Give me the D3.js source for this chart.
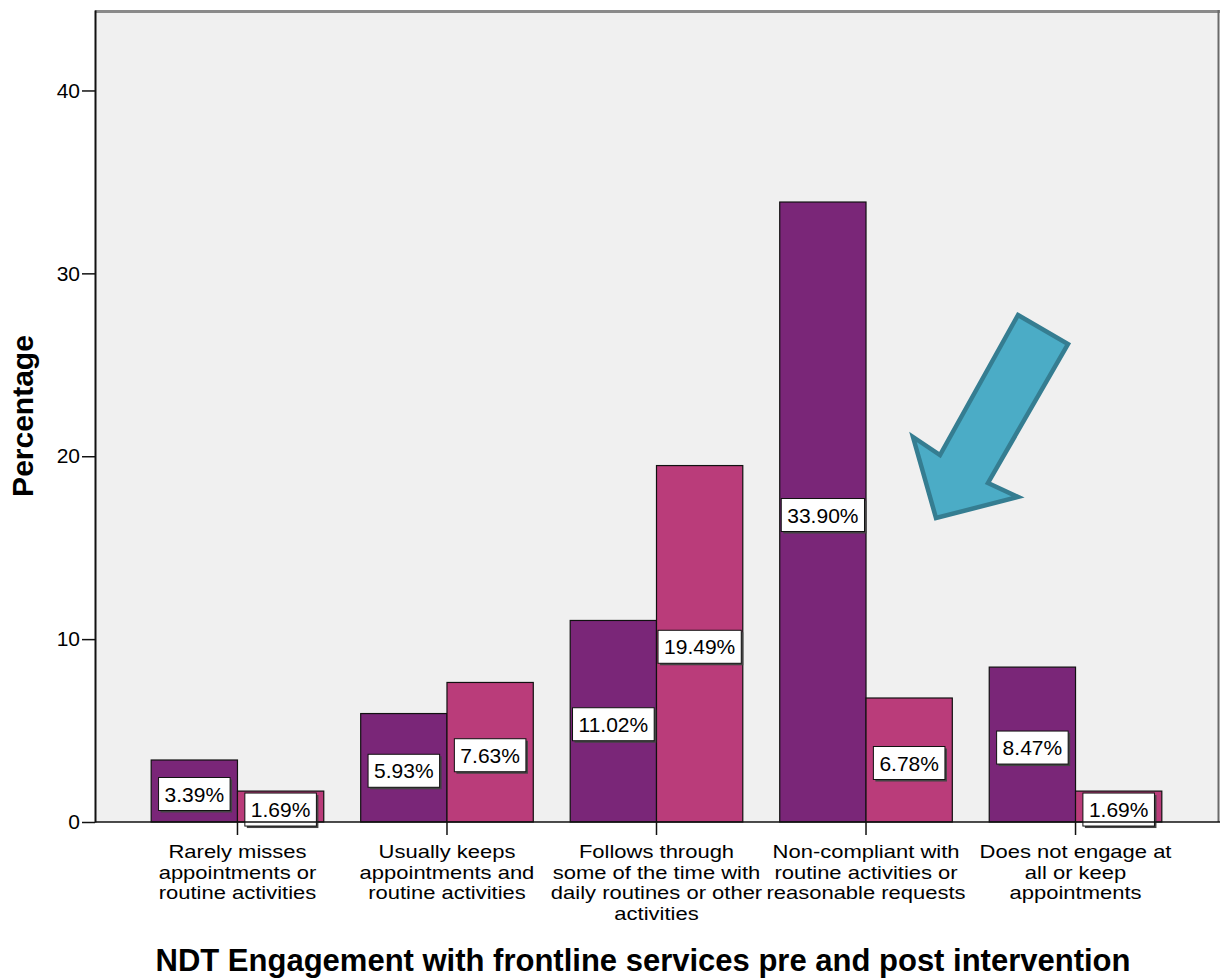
<!DOCTYPE html>
<html>
<head>
<meta charset="utf-8">
<script src="https://cdn.jsdelivr.net/npm/d3@7"></script>
<style>
  body { margin: 0; background: #fff; }
  svg text { font-family: "Liberation Sans", Arial, sans-serif; fill: #000; }
</style>
</head>
<body>
<svg id="chart" width="1220" height="979"></svg>
<script>
// categories (x axis), each label split into lines as drawn
const categories = [
  'Rarely misses appointments or routine activities',
  'Usually keeps appointments and routine activities',
  'Follows through some of the time with daily routines or other activities',
  'Non-compliant with routine activities or reasonable requests',
  'Does not engage at all or keep appointments'
]
const categoryLines = [
  ['Rarely misses', 'appointments or', 'routine activities'],
  ['Usually keeps', 'appointments and', 'routine activities'],
  ['Follows through', 'some of the time with', 'daily routines or other', 'activities'],
  ['Non-compliant with', 'routine activities or', 'reasonable requests'],
  ['Does not engage at', 'all or keep', 'appointments']
]
const seriesNames = ['pre', 'post']
const preValues = [3.39, 5.93, 11.02, 33.90, 8.47]
const postValues = [1.69, 7.63, 19.49, 6.78, 1.69]
const yTicks = [0, 10, 20, 30, 40]

const colors = { pre: '#7a2678', post: '#ba3c7a' }

const data = categories.map((c, i) => ({
  category: c,
  values: [
    { key: 'pre', value: preValues[i] },
    { key: 'post', value: postValues[i] }
  ]
}))

const svg = d3.select('#chart')
const plotLeft = 95, plotRight = 1218, plotTop = 10, plotBottom = 822

const x = d3.scaleBand()
  .domain(categories)
  .range([plotLeft, plotRight])
  .paddingInner(0)
  .paddingOuter(0.18)

const xSub = d3.scaleBand()
  .domain(seriesNames)
  .range([0, x.bandwidth()])
  .paddingInner(0)
  .paddingOuter(0.214)

const y = d3.scaleLinear()
  .domain([0, 44.4])
  .range([plotBottom, plotTop])

// plot background + frame
svg.append('rect')
  .attr('x', plotLeft).attr('y', plotTop)
  .attr('width', plotRight - plotLeft).attr('height', plotBottom - plotTop)
  .attr('fill', '#f0f0f0')
svg.append('line')
  .attr('x1', plotLeft).attr('x2', plotRight + 2)
  .attr('y1', plotTop + 1.5).attr('y2', plotTop + 1.5)
  .attr('stroke', '#8a8a8a').attr('stroke-width', 3)
svg.append('line')
  .attr('x1', plotRight + 0.5).attr('x2', plotRight + 0.5)
  .attr('y1', plotTop).attr('y2', plotBottom)
  .attr('stroke', '#6a6a6a').attr('stroke-width', 2)

// bars
const groups = svg.selectAll('.group')
  .data(data)
  .join('g')
  .attr('class', 'group')
  .attr('transform', d => `translate(${x(d.category)},0)`)

groups.selectAll('.bar')
  .data(d => d.values)
  .join('rect')
  .attr('class', 'bar')
  .attr('x', d => xSub(d.key))
  .attr('y', d => y(d.value))
  .attr('width', xSub.bandwidth())
  .attr('height', d => y(0) - y(d.value))
  .attr('fill', d => colors[d.key])
  .attr('stroke', '#111')
  .attr('stroke-width', 1.2)

// value labels
const labels = groups.selectAll('.lbl')
  .data(d => d.values)
  .join('g')
  .attr('class', 'lbl')
  .attr('transform', d =>
    `translate(${xSub(d.key) + xSub.bandwidth() / 2},${(y(d.value) + y(0)) / 2 + 3})`)

labels.each(function(d) {
  const g = d3.select(this)
  const t = g.append('text')
    .attr('text-anchor', 'middle')
    .attr('dy', '0.36em')
    .style('font-size', '21px')
    .text(d.value.toFixed(2) + '%')
  const w = t.node().getComputedTextLength() + 12
  const h = 33
  g.insert('rect', 'text')
    .attr('x', -w / 2 + 2).attr('y', -h / 2 + 2)
    .attr('width', w).attr('height', h)
    .attr('fill', '#444')
  g.insert('rect', 'text')
    .attr('x', -w / 2).attr('y', -h / 2)
    .attr('width', w).attr('height', h)
    .attr('fill', '#fff')
    .attr('stroke', '#111').attr('stroke-width', 1)
})

// y axis
const yAxis = d3.axisLeft(y).tickValues(yTicks).tickSize(13).tickSizeOuter(0).tickPadding(2)
const yg = svg.append('g')
  .attr('transform', `translate(${plotLeft},0)`)
  .call(yAxis)
yg.select('.domain').attr('stroke', '#111').attr('stroke-width', 2)
yg.selectAll('.tick line').attr('stroke', '#111').attr('stroke-width', 1.5)
yg.selectAll('.tick text')
  .style('font-size', '21px')
  .style('font-family', '"Liberation Sans", Arial, sans-serif')
  .attr('fill', '#000')

// x axis
const xAxis = d3.axisBottom(x).tickSize(13).tickSizeOuter(0).tickFormat('')
const xg = svg.append('g')
  .attr('transform', `translate(0,${plotBottom})`)
  .call(xAxis)
xg.select('.domain').attr('d', `M${plotLeft},0H${plotRight + 2}`).attr('stroke', '#111').attr('stroke-width', 1.5)
xg.selectAll('.tick line').attr('stroke', '#111').attr('stroke-width', 1.5)

// wide, tightly stacked category lines (squeezed vertically like the original)
xg.selectAll('.tick').each(function(d) {
  const i = categories.indexOf(d)
  d3.select(this).selectAll('.cat')
    .data(categoryLines[i])
    .join('text')
    .attr('class', 'cat')
    .attr('text-anchor', 'middle')
    .attr('transform', (l, j) => `translate(0,${36 + j * 20.5}) scale(1,0.84)`)
    .style('font-size', '22px')
    .style('font-family', '"Liberation Sans", Arial, sans-serif')
    .attr('fill', '#000')
    .text(l => l)
})

// axis titles
svg.append('text')
  .attr('transform', `translate(33,${(plotTop + plotBottom) / 2}) rotate(-90)`)
  .attr('text-anchor', 'middle')
  .style('font-size', '30px')
  .style('font-weight', 'bold')
  .text('Percentage')

svg.append('text')
  .attr('x', 643)
  .attr('y', 971)
  .attr('text-anchor', 'middle')
  .style('font-size', '31px')
  .style('font-weight', 'bold')
  .text('NDT Engagement with frontline services pre and post intervention')

// callout arrow pointing at the post-intervention drop
const arrowPts = [[1018, 315], [1068, 344], [988, 483], [1018, 497], [936, 518], [913, 437], [940, 455]]
svg.append('path')
  .attr('d', d3.line()(arrowPts) + 'Z')
  .attr('fill', '#4bacc6')
  .attr('stroke', '#357d91')
  .attr('stroke-width', 4.5)
  .attr('stroke-linejoin', 'miter')
</script>
</body>
</html>
